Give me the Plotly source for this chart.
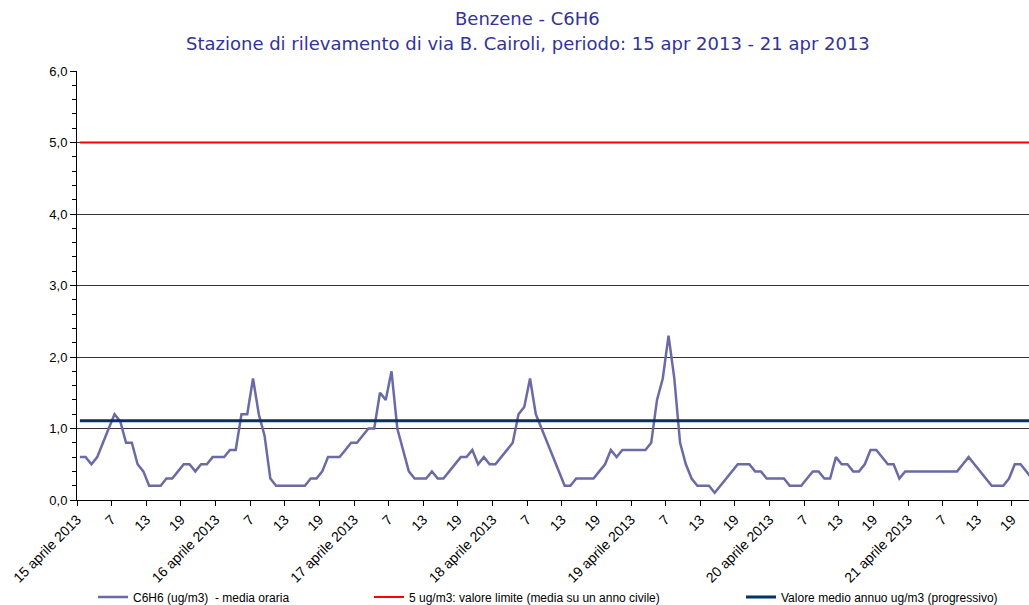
import plotly.graph_objects as go

# Hourly benzene values (ug/m3), 15-21 April 2013
c6h6 = [0.6, 0.6, 0.5, 0.6, 0.8, 1.0, 1.2, 1.1, 0.8, 0.8, 0.5, 0.4, 0.2, 0.2, 0.2, 0.3,
        0.3, 0.4, 0.5, 0.5, 0.4, 0.5, 0.5, 0.6, 0.6, 0.6, 0.7, 0.7, 1.2, 1.2, 1.7, 1.2,
        0.9, 0.3, 0.2, 0.2, 0.2, 0.2, 0.2, 0.2, 0.3, 0.3, 0.4, 0.6, 0.6, 0.6, 0.7, 0.8,
        0.8, 0.9, 1.0, 1.0, 1.5, 1.4, 1.8, 1.0, 0.7, 0.4, 0.3, 0.3, 0.3, 0.4, 0.3, 0.3,
        0.4, 0.5, 0.6, 0.6, 0.7, 0.5, 0.6, 0.5, 0.5, 0.6, 0.7, 0.8, 1.2, 1.3, 1.7, 1.2,
        1.0, 0.8, 0.6, 0.4, 0.2, 0.2, 0.3, 0.3, 0.3, 0.3, 0.4, 0.5, 0.7, 0.6, 0.7, 0.7,
        0.7, 0.7, 0.7, 0.8, 1.4, 1.7, 2.3, 1.7, 0.8, 0.5, 0.3, 0.2, 0.2, 0.2, 0.1, 0.2,
        0.3, 0.4, 0.5, 0.5, 0.5, 0.4, 0.4, 0.3, 0.3, 0.3, 0.3, 0.2, 0.2, 0.2, 0.3, 0.4,
        0.4, 0.3, 0.3, 0.6, 0.5, 0.5, 0.4, 0.4, 0.5, 0.7, 0.7, 0.6, 0.5, 0.5, 0.3, 0.4,
        0.4, 0.4, 0.4, 0.4, 0.4, 0.4, 0.4, 0.4, 0.4, 0.5, 0.6, 0.5, 0.4, 0.3, 0.2, 0.2,
        0.2, 0.3, 0.5, 0.5, 0.4, 0.3]
limit_value = 5.0
annual_mean = 1.11

days = ["15 aprile 2013", "16 aprile 2013", "17 aprile 2013", "18 aprile 2013",
        "19 aprile 2013", "20 aprile 2013", "21 aprile 2013"]
hour_labels = ["7", "13", "19"]
y_ticks = [0, 1, 2, 3, 4, 5, 6]
y_tick_text = ["0,0", "1,0", "2,0", "3,0", "4,0", "5,0", "6,0"]

series_name = "C6H6 (ug/m3)  - media oraria"
limit_name = "5 ug/m3: valore limite (media su un anno civile)"
mean_name = "Valore medio annuo ug/m3 (progressivo)"
title_1 = "Benzene - C6H6"
title_2 = "Stazione di rilevamento di via B. Cairoli, periodo: 15 apr 2013 - 21 apr 2013"

n = len(c6h6)
x = list(range(n))

tickvals, ticktext = [], []
for d, day in enumerate(days):
    for j, lab in enumerate([day] + hour_labels):
        tickvals.append(-0.5 + 24 * d + 6 * j)
        ticktext.append(lab)

fig = go.Figure()
fig.add_trace(go.Scatter(x=x, y=c6h6, mode="lines", name=series_name,
                         line=dict(color="#6a6aa6", width=2.5), legend="legend"))
fig.add_trace(go.Scatter(x=x, y=[limit_value] * n, mode="lines", name=limit_name,
                         line=dict(color="#ff0000", width=2), legend="legend2"))
fig.add_trace(go.Scatter(x=x, y=[annual_mean] * n, mode="lines", name=mean_name,
                         line=dict(color="#003366", width=3), legend="legend3"))

legend_font = dict(family="Liberation Sans, Arial", size=12, color="#000000")
leg_common = dict(orientation="h", yanchor="middle", y=1 - 597 / 605, yref="container",
                  xref="container", xanchor="left",
                  font=legend_font, bgcolor="rgba(0,0,0,0)", itemwidth=30)

fig.update_layout(
    width=1029, height=605,
    margin=dict(l=77, r=0, t=71, b=105),
    paper_bgcolor="white", plot_bgcolor="white",
    showlegend=True,
    legend=dict(x=93 / 1029, **leg_common),
    legend2=dict(x=369 / 1029, **leg_common),
    legend3=dict(x=741 / 1029, **leg_common),
    xaxis=dict(range=[-0.5, 164.46], tickmode="array", tickvals=tickvals, ticktext=ticktext,
               tickangle=-45, ticks="outside", ticklen=5, tickcolor="#000000",
               showgrid=False, zeroline=False, showline=True, linecolor="#000000", linewidth=1,
               automargin=False,
               tickfont=dict(family="Liberation Sans, Arial", size=14, color="#000000")),
    yaxis=dict(range=[0, 6], tickmode="array", tickvals=y_ticks, ticktext=y_tick_text,
               ticks="outside", ticklen=6, tickcolor="#000000",
               minor=dict(dtick=0.2, ticks="outside", ticklen=4, tickcolor="#000000", showgrid=False),
               showgrid=True, gridcolor="#333333", gridwidth=1,
               zeroline=False, showline=True, linecolor="#000000", linewidth=1,
               automargin=False,
               tickfont=dict(family="Liberation Sans, Arial", size=13, color="#000000")),
    annotations=[
        dict(text=title_1, xref="paper", yref="paper", x=0.4737, y=(500 - 18) / 429,
             showarrow=False, xanchor="center", yanchor="middle",
             font=dict(family="DejaVu Sans", size=18, color="#333399")),
        dict(text=title_2, xref="paper", yref="paper", x=0.4737, y=(500 - 43) / 429,
             showarrow=False, xanchor="center", yanchor="middle",
             font=dict(family="DejaVu Sans", size=18, color="#333399")),
    ],
)

fig.write_html("out.html", config={"displayModeBar": False},
               post_script="document.body.style.margin='0';document.body.style.padding='0';")
